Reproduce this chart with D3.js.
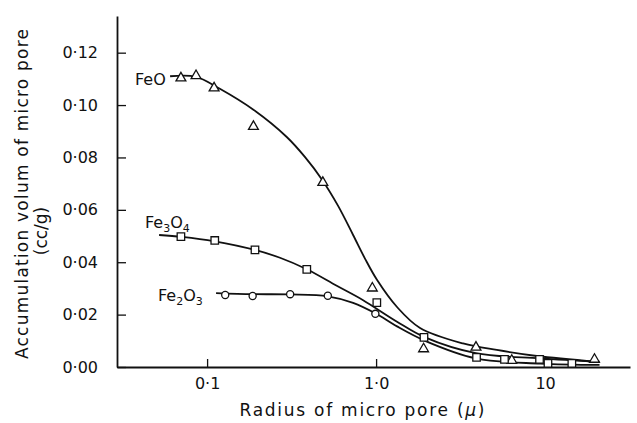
<!DOCTYPE html>
<html>
<head>
<meta charset="utf-8">
<script src="https://cdn.jsdelivr.net/npm/d3@7/dist/d3.min.js"></script>
<style>
  html, body { margin: 0; padding: 0; background: #fff; }
  svg { display: block; }
  text { font-family: "DejaVu Sans", sans-serif; fill: #111; }
</style>
</head>
<body>
<svg id="chart" width="637" height="423"></svg>
<script>
// ---- data ----
const yTicks = [0, 0.02, 0.04, 0.06, 0.08, 0.10, 0.12];
const xTicks = [0.1, 1, 10];
const xTickLabels = ["0·1", "1·0", "10"];

// FeO (triangles)
const feoX = [0.070, 0.086, 0.110, 0.188, 0.484, 0.95, 1.91, 3.90, 6.35, 19.6];
const feoY = [0.1103, 0.1112, 0.1065, 0.0918, 0.0704, 0.0301, 0.0069, 0.0075, 0.0025, 0.0029];
const feoCurveX = [0.0604, 0.086, 0.119, 0.188, 0.296, 0.380, 0.479, 0.596, 0.731, 0.861, 1.014, 1.33, 1.82, 3.27, 5.18, 8.93, 20.2];
const feoCurveY = [0.1110, 0.1108, 0.1062, 0.0982, 0.0878, 0.0801, 0.0715, 0.0615, 0.0504, 0.0413, 0.0332, 0.0229, 0.0149, 0.0090, 0.0065, 0.0042, 0.0020];

// Fe3O4 (squares)
const fe3o4X = [0.070, 0.111, 0.192, 0.389, 1.01, 1.92, 3.93, 5.75, 9.27, 10.4, 14.4];
const fe3o4Y = [0.0498, 0.0483, 0.0447, 0.0373, 0.0246, 0.0113, 0.0037, 0.0029, 0.0029, 0.0014, 0.0014];
const fe3o4CurveX = [0.052, 0.071, 0.111, 0.192, 0.270, 0.389, 0.585, 0.838, 1.33, 1.95, 3.89, 9.35, 21];
const fe3o4CurveY = [0.0504, 0.0497, 0.0480, 0.0447, 0.0417, 0.0373, 0.0310, 0.0255, 0.0173, 0.0113, 0.0053, 0.0033, 0.0020];

// Fe2O3 (circles)
const fe2o3X = [0.128, 0.186, 0.310, 0.518, 0.99];
const fe2o3Y = [0.0275, 0.0271, 0.0278, 0.0272, 0.0203];
const fe2o3CurveX = [0.113, 0.186, 0.310, 0.518, 0.731, 0.99, 1.33, 1.95, 3.89, 9.35, 21];
const fe2o3CurveY = [0.0282, 0.0278, 0.0277, 0.0270, 0.0245, 0.0205, 0.0155, 0.0100, 0.0033, 0.0013, 0.0008];

// ---- drawing ----
const svg = d3.select("#chart");
const x = d3.scaleLog().domain([0.0293, 31.8]).range([117, 630]);
const y = d3.scaleLinear().domain([0, 0.134]).range([367, 16]);

const fmtY = d => d.toFixed(2).replace(".", "·");

const yAxis = svg.append("g")
  .attr("transform", `translate(${x.range()[0]},0)`)
  .call(d3.axisLeft(y).tickValues(yTicks).tickFormat(fmtY)
        .tickSizeInner(-9).tickSizeOuter(0).tickPadding(19));
yAxis.select(".domain").attr("stroke", "#111").attr("stroke-width", 1.8);
yAxis.selectAll(".tick line").attr("stroke", "#111").attr("stroke-width", 1.3);
yAxis.selectAll(".tick text").style("font-size", "16px").style("font-family", "DejaVu Sans");

const xAxis = svg.append("g")
  .attr("transform", `translate(0,${y.range()[0]})`)
  .call(d3.axisBottom(x).tickValues(xTicks).tickFormat((d, i) => xTickLabels[i])
        .tickSizeInner(-8).tickSizeOuter(0).tickPadding(11));
xAxis.select(".domain").attr("stroke", "#111").attr("stroke-width", 1.8);
xAxis.selectAll(".tick line").attr("stroke", "#111").attr("stroke-width", 1.3);
xAxis.selectAll(".tick text").style("font-size", "16px").style("font-family", "DejaVu Sans");

// curves
const line = d3.line().x(d => x(d[0])).y(d => y(d[1])).curve(d3.curveCatmullRom.alpha(0.5));
function drawCurve(xs, ys) {
  svg.append("path")
    .datum(xs.map((v, i) => [v, ys[i]]))
    .attr("d", line)
    .attr("fill", "none").attr("stroke", "#111").attr("stroke-width", 1.8);
}
drawCurve(feoCurveX, feoCurveY);
drawCurve(fe3o4CurveX, fe3o4CurveY);
drawCurve(fe2o3CurveX, fe2o3CurveY);

// markers
function drawMarkers(xs, ys, type, size) {
  const sym = d3.symbol().type(type).size(size);
  svg.append("g").selectAll("path")
    .data(xs.map((v, i) => [v, ys[i]]))
    .join("path")
    .attr("transform", d => `translate(${x(d[0])},${y(d[1])})`)
    .attr("d", sym)
    .attr("fill", "#fff").attr("stroke", "#111").attr("stroke-width", 1.3);
}
drawMarkers(feoX, feoY, d3.symbolTriangle, 42);
drawMarkers(fe3o4X, fe3o4Y, d3.symbolSquare, 56);
drawMarkers(fe2o3X, fe2o3Y, d3.symbolCircle, 40);

// series labels
function label(px, py, parts) {
  const t = svg.append("text").attr("x", px).attr("y", py).style("font-size", "16px");
  let prevSub = false;
  parts.forEach(p => {
    const s = t.append("tspan").text(p.t);
    if (p.sub) { s.attr("dy", 4).style("font-size", "11px"); prevSub = true; }
    else { if (prevSub) s.attr("dy", -4); prevSub = false; }
  });
}
label(135, 85, [{t: "FeO"}]);
label(145, 228, [{t: "Fe"}, {t: "3", sub: true}, {t: "O"}, {t: "4", sub: true}]);
label(158, 301, [{t: "Fe"}, {t: "2", sub: true}, {t: "O"}, {t: "3", sub: true}]);

// axis titles
svg.append("text")
  .attr("transform", "translate(28,194) rotate(-90)")
  .attr("text-anchor", "middle")
  .attr("textLength", 330).attr("lengthAdjust", "spacing")
  .style("font-size", "17px")
  .text("Accumulation volum of micro pore");
svg.append("text")
  .attr("transform", "translate(47,231) rotate(-90)")
  .attr("text-anchor", "middle")
  .style("font-size", "17px")
  .text("(cc/g)");
const xt = svg.append("text")
  .attr("x", 362).attr("y", 416)
  .attr("text-anchor", "middle")
  .attr("textLength", 245).attr("lengthAdjust", "spacing")
  .style("font-size", "17px");
xt.append("tspan").text("Radius of micro pore  (");
xt.append("tspan").style("font-style", "italic").text("μ");
xt.append("tspan").text(")");
</script>
</body>
</html>
